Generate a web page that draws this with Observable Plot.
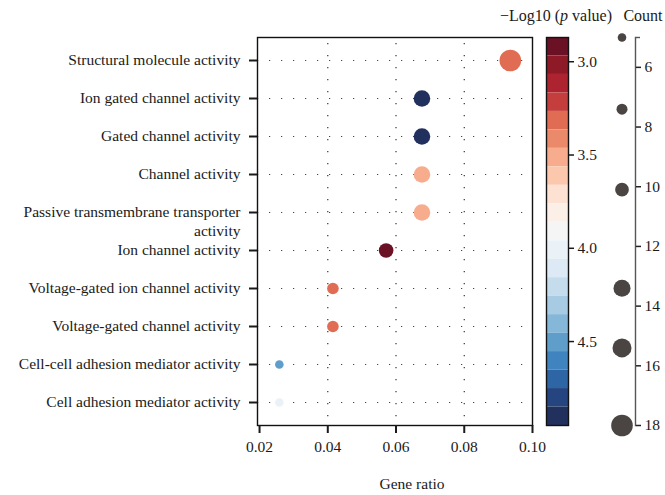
<!DOCTYPE html>
<html>
<head>
<meta charset="utf-8">
<script src="https://cdn.jsdelivr.net/npm/d3@7"></script>
<script src="https://cdn.jsdelivr.net/npm/@observablehq/plot@0.6"></script>
<style>
  html, body { margin: 0; padding: 0; background: #fff; }
  #wrap { position: relative; width: 665px; height: 495px; font-family: "Liberation Serif", "DejaVu Serif", serif; color: #1a1a1a; }
  #wrap > svg, #wrap > figure { position: absolute; top: 0; margin: 0; }
  .ttl { position: absolute; top: 7px; font-size: 16px; white-space: nowrap; text-align: center; }
</style>
</head>
<body>
<div id="wrap"></div>
<script>
// ---- data ----
const categories = [
  "Structural molecule activity",
  "Ion gated channel activity",
  "Gated channel activity",
  "Channel activity",
  "Passive transmembrane transporter activity",
  "Ion channel activity",
  "Voltage-gated ion channel activity",
  "Voltage-gated channel activity",
  "Cell-cell adhesion mediator activity",
  "Cell adhesion mediator activity"
];
const geneRatio = [0.0935, 0.0676, 0.0676, 0.0676, 0.0676, 0.0571, 0.0415, 0.0415, 0.0258, 0.0258];
const counts    = [18, 13, 13, 13, 13, 11, 8, 8, 5, 5];
const negLog10P = [3.32, 4.90, 4.90, 3.51, 3.51, 2.92, 3.33, 3.33, 4.50, 4.01];

const xTicks = [0.02, 0.04, 0.06, 0.08, 0.10];
const colorTicks = [3.0, 3.5, 4.0, 4.5];
const countTicks = [6, 8, 10, 12, 14, 16, 18];
const countKeys = [5, 7.4, 10.1, 13.4, 15.4, 18];

// colour bar: value range and its stepped palette
const colorDomain = [2.87, 4.95];
const bandColors = ["#6b1126","#8e1a27","#ad2330","#c33e3c","#e06d53","#ea8a6b","#f6ac8d","#fcc8ad","#fde1d3","#fcefe8","#f5f5f5","#ebf2f7","#dde9f4","#c5dcec","#a7cbe3","#85b7d8","#5f9eca","#3f83bf","#2e66a5","#24457f","#22305e"];

// ---- derived ----
const rows = categories.map((c, i) => ({term: c, ratio: geneRatio[i], count: counts[i], p: negLog10P[i]}));
const nB = bandColors.length;
const stepB = (colorDomain[1] - colorDomain[0]) / nB;
const bands = d3.range(nB).map(i => ({y1: colorDomain[0] + i * stepB, y2: colorDomain[0] + (i + 1) * stepB}));
const colorScale = {type: "threshold", domain: bands.slice(1).map(b => b.y1), range: bandColors};
const rScale = {type: "linear", domain: [5, 18], range: [4.3, 10.8]};
const passive = categories[4];
const FS = 15.5;
const font = {fontFamily: "Liberation Serif, DejaVu Serif, serif", fontSize: FS + "px", background: "transparent", color: "#1a1a1a", overflow: "visible"};

const wrap = document.getElementById("wrap");

// ---- main dot plot ----
const main = Plot.plot({
  width: 540, height: 495,
  marginLeft: 257, marginRight: 8, marginTop: 37, marginBottom: 70,
  style: font,
  x: {domain: [0.0194, 0.1]},
  y: {type: "point", domain: categories, padding: 0.5},
  r: rScale,
  color: colorScale,
  marks: [
    Plot.ruleY(categories, {y: d => d, stroke: "#444", strokeWidth: 1.2, strokeDasharray: "1.2,10.8"}),
    Plot.ruleX(xTicks.slice(1, -1), {x: d => d, stroke: "#333", strokeWidth: 1.2, strokeDasharray: "1.2,10.8", strokeDashoffset: -6}),
    Plot.dot(rows, {x: "ratio", y: "term", r: "count", fill: "p", stroke: null}),
    Plot.frame({stroke: "#111", strokeWidth: 1.4}),
    Plot.axisX({ticks: xTicks, tickFormat: d3.format(".2f"), tickSize: 8, tickPadding: 7, strokeWidth: 2, label: null, fontSize: FS}),
    Plot.axisY({tickSize: 8, tickPadding: 9, strokeWidth: 2, label: null, fontSize: FS,
      tickFormat: d => d === passive ? "" : d}),
    Plot.axisY({ticks: [passive], tickSize: 0, tickPadding: 17, label: null, fontSize: FS,
      lineHeight: 1.25, dy: 7.5,
      tickFormat: () => "Passive transmembrane transporter\nactivity"}),
    Plot.text(["Gene ratio"], {frameAnchor: "bottom", dy: 63, dx: 17, fontSize: FS})
  ]
});
main.style.left = "0px";
wrap.appendChild(main);

// ---- colour bar ----
const cbar = Plot.plot({
  width: 60, height: 495,
  marginLeft: 6, marginRight: 32, marginTop: 37, marginBottom: 70,
  style: font,
  y: {domain: colorDomain, reverse: true},
  color: colorScale,
  marks: [
    Plot.rect(bands, {y1: "y1", y2: "y2", fill: d => (d.y1 + d.y2) / 2}),
    Plot.frame({stroke: "#111", strokeWidth: 1.4}),
    Plot.axisY({anchor: "right", ticks: colorTicks, tickFormat: d3.format(".1f"), tickSize: 5, tickPadding: 4, strokeWidth: 1.5, label: null, fontSize: FS})
  ]
});
cbar.style.left = "540px";
wrap.appendChild(cbar);

// ---- count (size) legend ----
const cnt = Plot.plot({
  width: 65, height: 495,
  marginLeft: 8, marginRight: 30, marginTop: 37, marginBottom: 70,
  style: font,
  y: {domain: [5, 18], reverse: true},
  r: rScale,
  marks: [
    Plot.dot(countKeys, {y: d => d, r: d => d, fill: "#4a4543", stroke: null}),
    Plot.frame({anchor: "right", stroke: "#555", strokeWidth: 1.4}),
    Plot.axisY({anchor: "right", ticks: countTicks, tickSize: 5, tickPadding: 4, stroke: "#222", strokeWidth: 1.5, label: null, fontSize: FS}),
    Plot.axisY({anchor: "right", ticks: [5], tickSize: 4, tickFormat: () => "", stroke: "#555", strokeWidth: 1.4, label: null})
  ]
});
cnt.style.left = "600px";
wrap.appendChild(cnt);

// ---- titles ----
const t1 = document.createElement("div");
t1.className = "ttl";
t1.style.left = "496px"; t1.style.width = "120px";
t1.innerHTML = "\u2212Log10 (<i>p</i> value)";
wrap.appendChild(t1);
const t2 = document.createElement("div");
t2.className = "ttl";
t2.style.left = "619px"; t2.style.width = "48px";
t2.textContent = "Count";
wrap.appendChild(t2);
</script>
</body>
</html>
